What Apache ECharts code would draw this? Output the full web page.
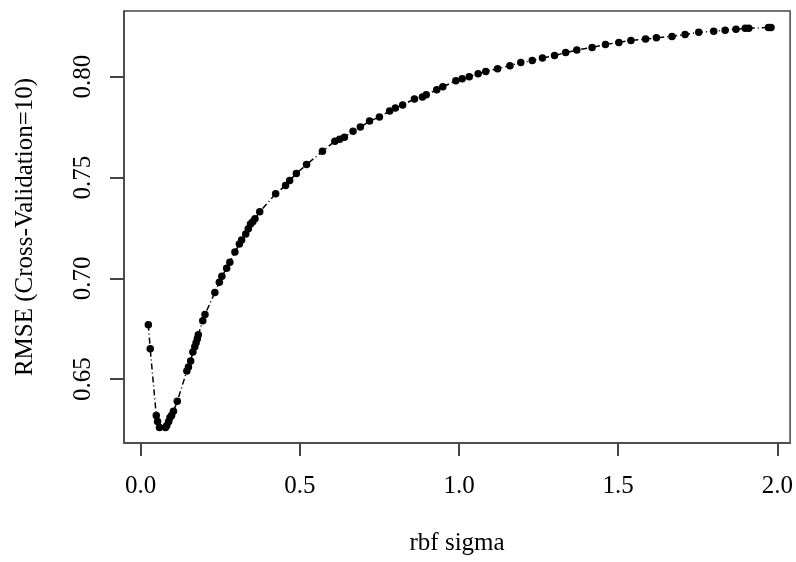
<!DOCTYPE html>
<html>
<head>
<meta charset="utf-8">
<script src="https://cdn.jsdelivr.net/npm/echarts@6/dist/echarts.min.js"></script>
<style>
  html, body { margin: 0; padding: 0; background: #fff; }
  #chart { width: 796px; height: 562px; }
</style>
</head>
<body>
<div id="chart"></div>
<script>
// values
const sigmaValues = [
  0.024, 0.030, 0.049, 0.053, 0.059, 0.078, 0.082, 0.088, 0.092, 0.097,
  0.103, 0.115, 0.145, 0.150, 0.157, 0.164, 0.170, 0.174, 0.178, 0.181,
  0.195, 0.202, 0.233, 0.247, 0.255, 0.270, 0.280, 0.296, 0.310, 0.317,
  0.330, 0.338, 0.345, 0.352, 0.359, 0.374, 0.424, 0.455, 0.468, 0.489,
  0.521, 0.571, 0.610, 0.625, 0.640, 0.667, 0.690, 0.719, 0.750, 0.782,
  0.800, 0.823, 0.860, 0.885, 0.897, 0.930, 0.949, 0.990, 1.010, 1.032,
  1.060, 1.084, 1.121, 1.160, 1.194, 1.230, 1.262, 1.300, 1.335, 1.370,
  1.418, 1.460, 1.502, 1.540, 1.586, 1.620, 1.669, 1.710, 1.753, 1.800,
  1.836, 1.870, 1.899, 1.910, 1.972, 1.980
];
const rmseValues = [
  0.677, 0.665, 0.632, 0.629, 0.626, 0.626, 0.627, 0.629, 0.631, 0.632,
  0.634, 0.639, 0.654, 0.656, 0.659, 0.6635, 0.666, 0.668, 0.670, 0.672,
  0.679, 0.682, 0.693, 0.698, 0.701, 0.705, 0.708, 0.713, 0.717, 0.719,
  0.722, 0.7246, 0.727, 0.728, 0.7296, 0.733, 0.742, 0.746, 0.7485, 0.752,
  0.7564, 0.763, 0.768, 0.769, 0.770, 0.773, 0.775, 0.778, 0.780, 0.783,
  0.7845, 0.786, 0.789, 0.790, 0.791, 0.7935, 0.795, 0.798, 0.799, 0.800,
  0.8015, 0.8026, 0.804, 0.8055, 0.807, 0.808, 0.8093, 0.8105, 0.812, 0.8132,
  0.8145, 0.816, 0.817, 0.818, 0.8187, 0.8193, 0.820, 0.821, 0.822, 0.8226,
  0.823, 0.8236, 0.824, 0.824, 0.8244, 0.8244
];
const xTicks = [0, 0.5, 1, 1.5, 2];
const yTicks = [0.65, 0.70, 0.75, 0.80];

const FONT = "'Liberation Serif', 'Times New Roman', serif";
const FRAME = "#444";

const chart = echarts.init(document.getElementById("chart"));
chart.setOption({
  animation: false,
  backgroundColor: "#fff",
  grid: {
    left: 124,
    top: 11,
    right: 5,
    bottom: 119,
    show: true,
    borderColor: FRAME,
    borderWidth: 1.5,
  },
  xAxis: {
    type: "value",
    min: -0.0524,
    max: 2.04,
    name: "rbf sigma",
    nameLocation: "middle",
    nameGap: 88,
    nameTextStyle: { fontFamily: FONT, fontSize: 25, color: "#000" },
    axisLine: { show: true, onZero: false, lineStyle: { color: FRAME, width: 1.5 } },
    axisTick: {
      show: true,
      customValues: xTicks,
      length: 13,
      lineStyle: { color: FRAME, width: 2 },
    },
    axisLabel: {
      customValues: xTicks,
      margin: 31,
      fontFamily: FONT,
      fontSize: 25,
      color: "#000",
      formatter: (v) => Number(v).toFixed(1),
    },
    splitLine: { show: false },
  },
  yAxis: {
    type: "value",
    min: 0.6183,
    max: 0.8326,
    name: "RMSE (Cross-Validation=10)",
    nameLocation: "middle",
    nameGap: 86,
    nameTextStyle: { fontFamily: FONT, fontSize: 25, color: "#000" },
    axisLine: { show: true, onZero: false, lineStyle: { color: FRAME, width: 1.5 } },
    axisTick: {
      show: true,
      customValues: yTicks,
      length: 14,
      lineStyle: { color: FRAME, width: 2 },
    },
    axisLabel: {
      customValues: yTicks,
      rotate: 90,
      margin: 28,
      fontFamily: FONT,
      fontSize: 25,
      color: "#000",
      formatter: (v) => Number(v).toFixed(2),
    },
    splitLine: { show: false },
  },
  series: [
    {
      type: "line",
      data: sigmaValues.map((s, i) => [s, rmseValues[i]]),
      symbol: "circle",
      symbolSize: 7.5,
      showAllSymbol: true,
      itemStyle: { color: "#000" },
      lineStyle: { color: "#000", width: 1.5, type: [6, 3, 1, 3] },
    },
  ],
});
</script>
</body>
</html>
